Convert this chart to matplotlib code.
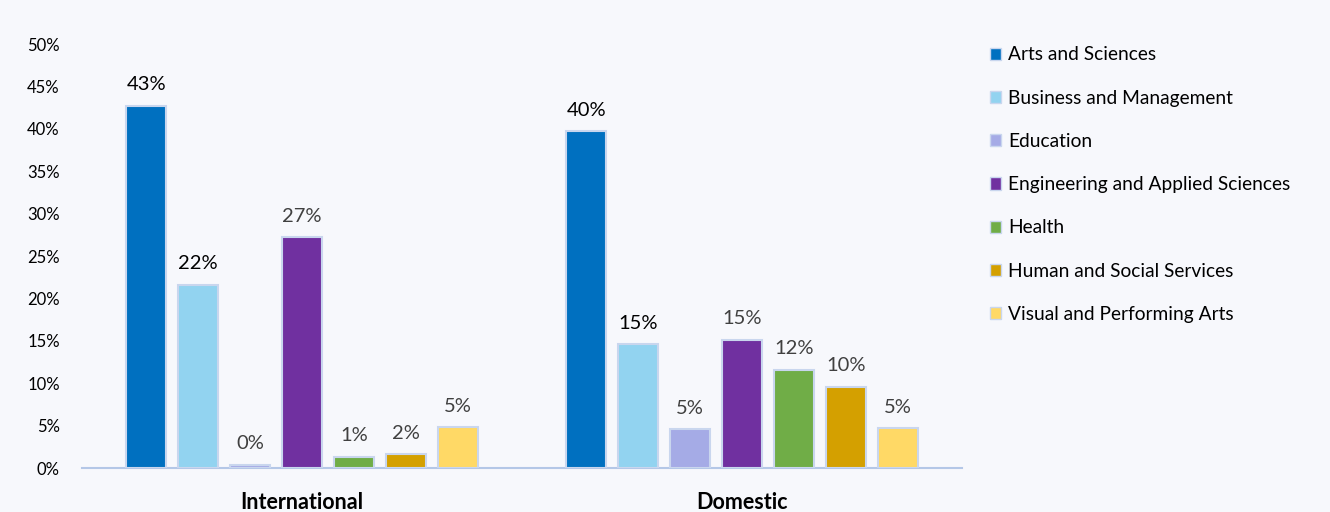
import matplotlib.pyplot as plt
import numpy as np

plt.rcParams['font.family'] = ['Lato', 'DejaVu Sans']

groups = ['International', 'Domestic']
fields = ['Arts and Sciences', 'Business and Management', 'Education',
          'Engineering and Applied Sciences', 'Health',
          'Human and Social Services', 'Visual and Performing Arts']
international = [42.7, 21.6, 0.4, 27.2, 1.3, 1.6, 4.8]
domestic = [39.7, 14.6, 4.6, 15.1, 11.6, 9.6, 4.7]
colors = ['#0070C0', '#92D3F0', '#A5ABE6', '#7030A0', '#70AD47', '#D4A000', '#FFD966']
# labels printed in black, the rest in dark grey
black_labels = {(0, 0), (0, 1), (1, 0), (1, 1)}

bg = '#F7F8FC'
fig = plt.figure(figsize=(13.3, 5.12), dpi=100, facecolor=bg)
ax = fig.add_axes([0.0617, 0.0859, 0.6616, 0.8281], facecolor=bg)

x = np.arange(len(groups))
pitch = 0.118
w = 0.091
vals = np.array([international, domestic])
for i, f in enumerate(fields):
    pos = x + (i - 3) * pitch
    bars = ax.bar(pos, vals[:, i], width=w, color=colors[i], edgecolor='#C9D6EE',
                  linewidth=1.5, label=f, zorder=3)
    for g, b in enumerate(bars):
        c = '#000000' if (g, i) in black_labels else '#404040'
        ax.annotate(f"{vals[g, i]:.0f}%", (b.get_x() + b.get_width() / 2, b.get_height()),
                    xytext=(0, 9), textcoords='offset points', ha='center', va='bottom',
                    fontsize=14.5, color=c)

ax.set_xlim(-0.5, 1.5)
ax.set_ylim(0, 50)
ax.set_yticks(range(0, 51, 5))
ax.set_yticklabels([f"{t}%" for t in range(0, 51, 5)], fontsize=12, color='#000000')
ax.set_xticks(x)
ax.set_xticklabels(groups, fontsize=15.5, fontweight='bold')
ax.tick_params(axis='both', length=0)
ax.tick_params(axis='x', pad=17)
ax.tick_params(axis='y', pad=16)
for s in ['top', 'right', 'left']:
    ax.spines[s].set_visible(False)
ax.spines['bottom'].set_color('#B4C7E7')
ax.spines['bottom'].set_linewidth(1.5)

leg = ax.legend(loc='upper left', bbox_to_anchor=(1.012, 1.035), frameon=False,
                fontsize=13.8, handlelength=0.6, handleheight=0.6, handletextpad=0.35,
                labelspacing=1.37)
for h in leg.legend_handles:
    h.set_linewidth(1.0)

fig.savefig('out.png', dpi=100, facecolor=bg)
